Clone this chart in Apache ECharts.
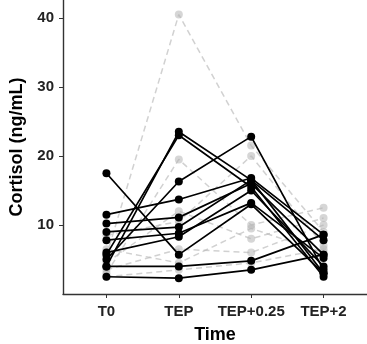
<!DOCTYPE html>
<html>
<head>
<meta charset="utf-8">
<script src="https://cdn.jsdelivr.net/npm/echarts@6/dist/echarts.min.js"></script>
<style>html,body{margin:0;padding:0;background:#fff}#c{width:367px;height:344px}</style>
</head>
<body>
<div id="c"></div>
<script>
var categories = ['T0', 'TEP', 'TEP+0.25', 'TEP+2'];
var yTicks = [10, 20, 30, 40];

// Black (solid) subjects
var b1 = [17.5, 5.7, 13.0, 3.0];
var b2 = [4.0, 23.5, 16.5, 3.0];
var b3 = [5.7, 23.0, 15.5, 2.5];
var b4 = [5.0, 16.3, 22.8, 3.5];
var b5 = [11.5, 13.7, 16.8, 8.6];
var b6 = [10.2, 11.1, 16.0, 5.7];
var b7 = [9.0, 9.7, 16.5, 7.8];
var b8 = [7.8, 8.8, 13.2, 5.2];
var b9 = [2.5, 2.3, 3.5, 5.7];
var b10 = [4.0, 4.0, 4.8, 8.6];
var b11 = [6.0, 8.3, 15.0, 4.0];

// Grey (dashed) subjects
var g1 = [5.5, 40.5, 21.5, 9.0];
var g2 = [3.0, 19.5, 10.0, 12.5];
var g3 = [4.5, 12.0, 8.0, 11.0];
var g4 = [3.5, 6.5, 6.0, 10.0];
var g5 = [2.5, 3.5, 4.5, 6.5];
var g6 = [8.5, 10.5, 20.0, 7.0];
var g7 = [6.5, 4.5, 9.5, 6.0];

var blackSubjects = [b1, b2, b3, b4, b5, b6, b7, b8, b9, b10, b11];
var greySubjects = [g1, g2, g3, g4, g5, g6, g7];

function toPairs(arr) {
  return arr.map(function (v, i) { return [i + 1, v]; });
}

var series = [];
greySubjects.forEach(function (s) {
  series.push({
    type: 'line', data: toPairs(s), symbol: 'circle', symbolSize: 8,
    lineStyle: { color: 'rgba(190,190,190,0.7)', width: 1.5, type: [6, 4] },
    itemStyle: { color: 'rgba(180,180,180,0.55)' },
    silent: true, z: 2
  });
});
blackSubjects.forEach(function (s) {
  series.push({
    type: 'line', data: toPairs(s), symbol: 'circle', symbolSize: 8,
    lineStyle: { color: '#000', width: 1.7 },
    itemStyle: { color: '#000' },
    silent: true, z: 3
  });
});

var chart = echarts.init(document.getElementById('c'));
chart.setOption({
  animation: false,
  backgroundColor: '#fff',
  grid: { left: 63, right: 0, top: 0, bottom: 50, containLabel: false, outerBoundsMode: 'none' },
  xAxis: {
    type: 'value', min: 0.4, max: 4.6,
    name: 'Time', nameLocation: 'middle', nameGap: 32,
    nameTextStyle: { fontFamily: 'Liberation Sans', fontWeight: 'bold', fontSize: 18, color: '#000' },
    axisLine: { show: true, lineStyle: { color: '#333', width: 1.4 } },
    axisTick: { show: true, length: 4, customValues: [1, 2, 3, 4], lineStyle: { color: '#333' } },
    axisLabel: {
      customValues: [1, 2, 3, 4], margin: 10,
      fontFamily: 'Liberation Sans', fontWeight: 'bold', fontSize: 15, color: '#222',
      formatter: function (v) { return categories[Math.round(v) - 1] || ''; }
    },
    splitLine: { show: false }
  },
  yAxis: {
    type: 'value', min: 0, max: 42.6,
    name: 'Cortisol (ng/mL)', nameLocation: 'middle', nameGap: 30, nameRotate: 90,
    nameTextStyle: { fontFamily: 'Liberation Sans', fontWeight: 'bold', fontSize: 18, color: '#000' },
    axisLine: { show: true, lineStyle: { color: '#333', width: 1.4 } },
    axisTick: { show: true, length: 4, customValues: yTicks, lineStyle: { color: '#333' } },
    axisLabel: {
      customValues: yTicks, margin: 9,
      fontFamily: 'Liberation Sans', fontWeight: 'bold', fontSize: 15, color: '#222'
    },
    splitLine: { show: false }
  },
  series: series
});
</script>
</body>
</html>
